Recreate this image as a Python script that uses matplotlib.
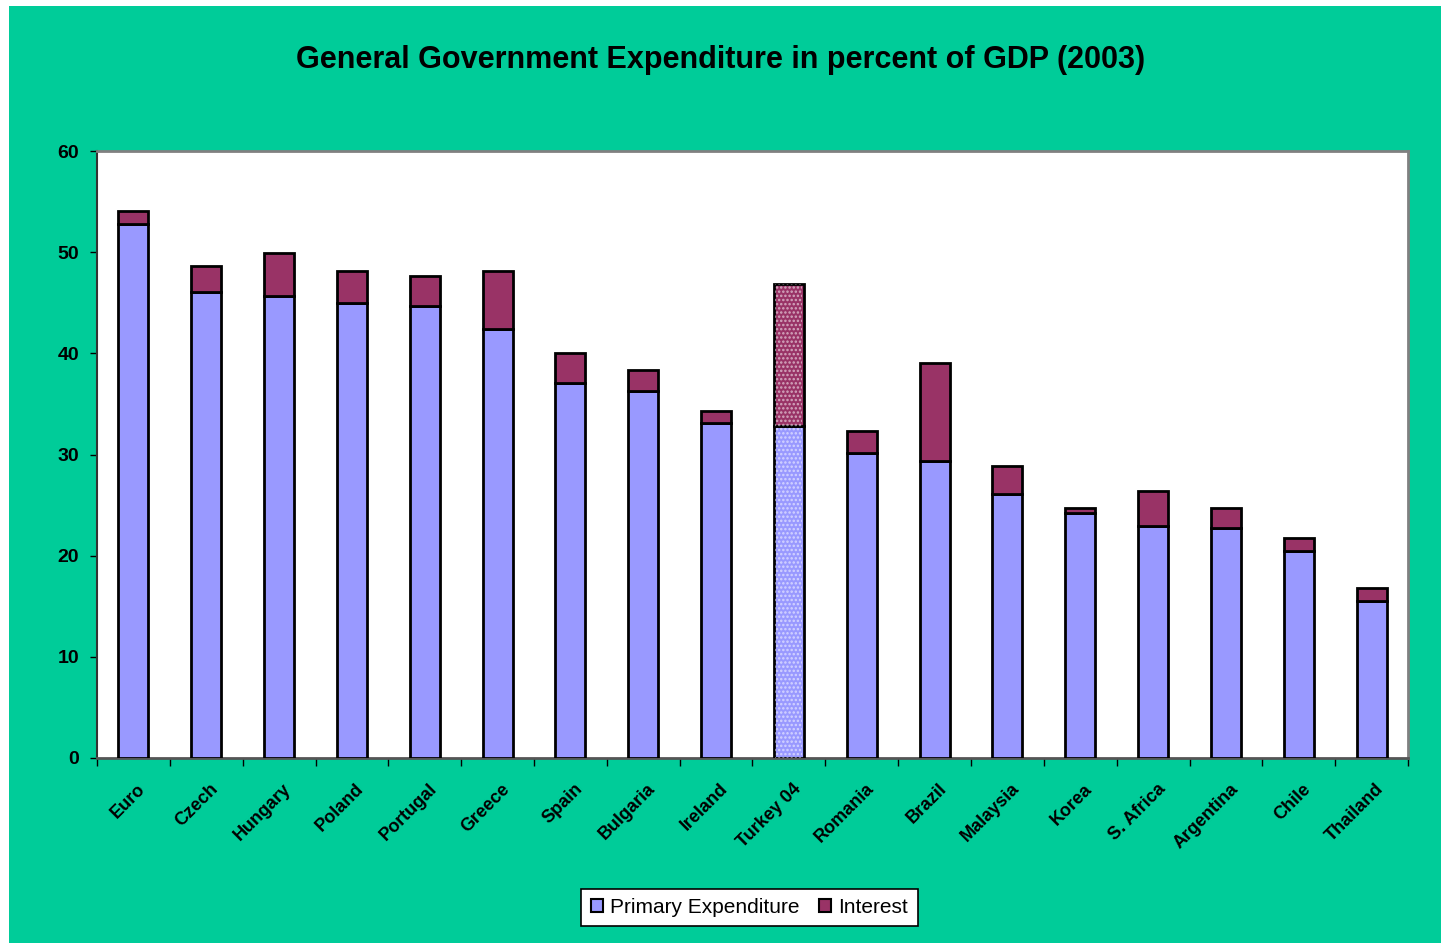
import matplotlib
matplotlib.use("Agg")
import matplotlib.pyplot as plt
import numpy as np
from matplotlib.patches import Rectangle, Patch

countries = ["Euro", "Czech", "Hungary", "Poland", "Portugal", "Greece", "Spain",
             "Bulgaria", "Ireland", "Turkey 04", "Romania", "Brazil", "Malaysia",
             "Korea", "S. Africa", "Argentina", "Chile", "Thailand"]
primary = [52.8, 46.1, 45.7, 45.0, 44.7, 42.4, 37.1, 36.3, 33.1, 32.8, 30.1, 29.4,
           26.1, 24.2, 22.9, 22.7, 20.5, 15.5]
total = [54.1, 48.6, 49.9, 48.1, 47.6, 48.1, 40.0, 38.4, 34.3, 46.9, 32.3, 39.0,
         28.9, 24.7, 26.4, 24.7, 21.7, 16.8]
interest = [t - p for t, p in zip(total, primary)]
dotted = ["Turkey 04"]

C_PRIMARY = "#9999FF"
C_INTEREST = "#993366"
C_BG = "#00CC99"

W, H = 1441, 943
fig = plt.figure(figsize=(W / 100, H / 100), dpi=100, facecolor="white")
fig.patches.append(Rectangle((9 / W, 0), 1 - 9 / W, 1 - 6 / H,
                             transform=fig.transFigure, facecolor=C_BG,
                             edgecolor="none", zorder=-10))

ax = fig.add_axes([97 / W, 1 - 758 / H, (1408 - 97) / W, (758 - 151) / H])
ax.set_facecolor("white")

x = np.arange(len(countries))
bw = 0.41
plt.rcParams["hatch.linewidth"] = 1.2
for i, c in enumerate(countries):
    ax.bar(x[i], primary[i], bw, color=C_PRIMARY, edgecolor="black", linewidth=2, zorder=3)
    ax.bar(x[i], interest[i], bw, bottom=primary[i], color=C_INTEREST,
           edgecolor="black", linewidth=2, zorder=3)
    if c in dotted:
        for b, h in ((0, primary[i]), (primary[i], interest[i])):
            ax.bar(x[i], h, bw * 0.9, bottom=b, color="none", edgecolor=(1, 1, 1, 0.55),
                   hatch="....", linewidth=0, zorder=4)

ax.set_xlim(-0.5, len(countries) - 0.5)
ax.set_ylim(0, 60)
ax.set_yticks(range(0, 61, 10))
ax.set_yticklabels([str(v) for v in range(0, 61, 10)], fontsize=14, fontweight="bold",
                   family="Liberation Sans")
ax.set_xticks(np.arange(-0.5, len(countries), 1.0))
ax.set_xticklabels([])
ax.tick_params(axis="x", direction="out", length=6, width=1, color="black")
ax.tick_params(axis="y", direction="out", length=5, width=1, color="black", pad=8)

for lab_x, lab in zip(x, countries):
    ax.text(lab_x + 0.05, -2.2, lab, rotation=45, ha="right", va="top",
            rotation_mode="anchor", fontsize=13, fontweight="bold",
            family="Liberation Sans", transform=ax.transData, clip_on=False)

for s in ("top", "right"):
    ax.spines[s].set_color("#808080")
    ax.spines[s].set_linewidth(2)
ax.spines["left"].set_color("#333333")
ax.spines["left"].set_linewidth(1.5)
ax.spines["bottom"].set_color("#555555")
ax.spines["bottom"].set_linewidth(2)

fig.text(0.5, 1 - 60 / H, "General Government Expenditure in percent of GDP (2003)",
         ha="center", va="center", fontsize=22, fontweight="heavy", family="Liberation Sans")

handles = [Patch(facecolor=C_PRIMARY, edgecolor="black", linewidth=1.5),
           Patch(facecolor=C_INTEREST, edgecolor="black", linewidth=1.5)]
leg = fig.legend(handles, ["Primary Expenditure", "Interest"], loc="center",
                 bbox_to_anchor=(749.5 / W, 1 - 907.5 / H), ncol=2, frameon=True,
                 fancybox=False, handlelength=0.6, handleheight=0.6, handletextpad=0.35,
                 columnspacing=0.9, borderpad=0.45, framealpha=1.0,
                 prop={"family": "Liberation Sans", "size": 15})
leg.get_frame().set_edgecolor("black")
leg.get_frame().set_facecolor("white")
leg.get_frame().set_linewidth(1.2)

fig.savefig("out.png", dpi=100, facecolor=fig.get_facecolor())
